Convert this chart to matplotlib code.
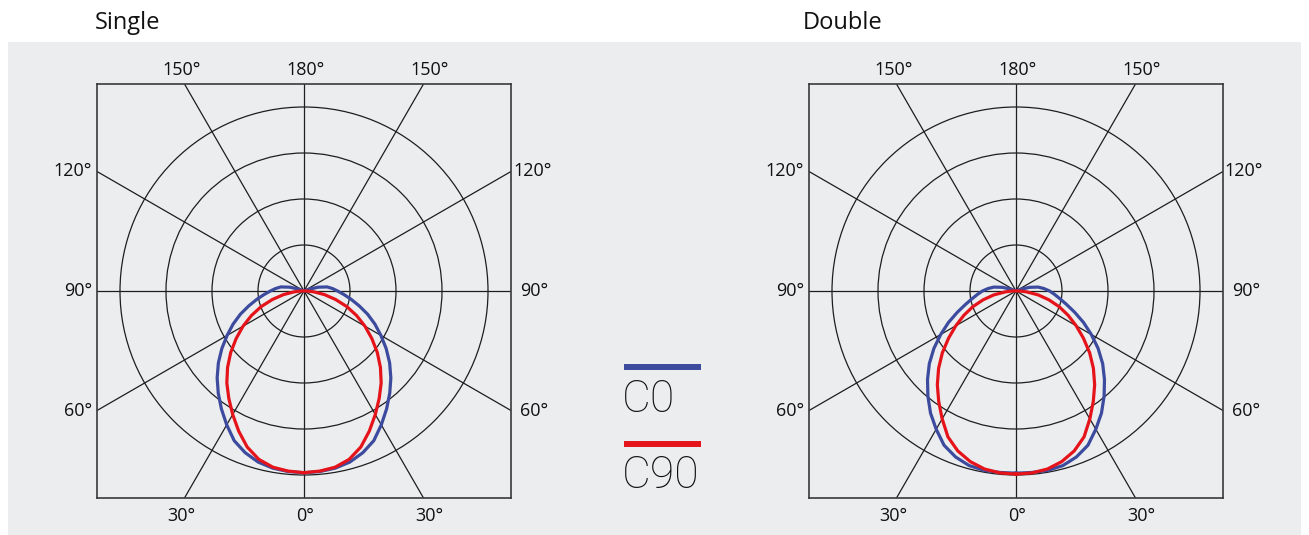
import numpy as np
import matplotlib
matplotlib.use("Agg")
import matplotlib.pyplot as plt
from matplotlib.patches import Rectangle, Circle

# ---------------- data ----------------
# angle from nadir (deg) and intensity (outer ring = 400)
angles = [0, 5, 10, 15, 20, 25, 30, 35, 40, 45, 50, 55, 60, 65, 70, 75, 80, 85,
          90, 95, 100, 105, 110, 115, 120, 180]

single_c0 = [395, 394, 391, 385, 374, 359, 336, 313, 290, 267, 243, 218, 193,
             170, 147, 124, 104, 87, 73, 62, 51, 32, 11, 0, 0, 0]
single_c90 = [395, 393, 389, 379, 361, 336, 310, 285, 261, 235, 208, 180, 153,
              126, 99, 71, 45, 22, 7, 0, 0, 0, 0, 0, 0, 0]
double_c0 = [396, 396, 396, 393, 384, 370, 347, 324, 298, 272, 246, 218, 189,
             162, 136, 114, 97, 84, 73, 61, 49, 31, 11, 0, 0, 0]
double_c90 = [398, 397, 393, 384, 370, 350, 321, 293, 266, 238, 209, 179, 151,
              125, 100, 74, 49, 24, 9, 0, 0, 0, 0, 0, 0, 0]

ring_values = [100, 200, 300, 400]
spoke_angles = list(range(0, 360, 30))
titles = ["Single", "Double"]
legend_labels = ["C0", "C90"]

# ---------------- style ----------------
W, H = 1309, 535
DPI = 100
BLUE = "#3C4B9E"
RED = "#E5141B"
GRID = "#1e1e1e"
BG = "#ECEDEF"
FONT = "Open Sans"
LIM = 450  # half box size in data units (outer ring = 400)

fig = plt.figure(figsize=(W / DPI, H / DPI), dpi=DPI)
fig.patch.set_facecolor("white")
fig.patches.append(Rectangle((8 / W, 0), (1301 - 8) / W, (H - 42) / H,
                             transform=fig.transFigure, facecolor=BG,
                             edgecolor="none", zorder=-10))


def fx(px):
    return px / W


def fy(py):
    return 1 - py / H


def polar_xy(ang, r):
    a = np.radians(np.asarray(ang, float))
    r = np.asarray(r, float)
    xr = r * np.sin(a)
    yr = -r * np.cos(a)
    x = np.concatenate([xr, -xr[::-1]])
    y = np.concatenate([yr, yr[::-1]])
    return x, y


def panel(left_px, top_px, size_px, c0, c90, right120_gap):
    ax = fig.add_axes([fx(left_px), fy(top_px + size_px), size_px / W, size_px / H])
    ax.set_zorder(1)
    ax.set_xlim(-LIM, LIM)
    ax.set_ylim(-LIM, LIM)
    ax.set_facecolor("none")
    ax.set_xticks([])
    ax.set_yticks([])
    for s in ax.spines.values():
        s.set_color("#3a3a3a")
        s.set_linewidth(1.2)
    for rv in ring_values:
        ax.add_patch(Circle((0, 0), rv, fill=False, edgecolor=GRID, lw=0.9, zorder=2))
    for sa in spoke_angles:
        a = np.radians(sa)
        ax.plot([0, 2000 * np.sin(a)], [0, -2000 * np.cos(a)], color=GRID, lw=0.9, zorder=2)
    x, y = polar_xy(angles, c0)
    ax.plot(x, y, color=BLUE, lw=2.3, zorder=4, solid_joinstyle="round")
    x, y = polar_xy(angles, c90)
    ax.plot(x, y, color=RED, lw=2.3, zorder=5, solid_joinstyle="round")

    t = LIM * np.tan(np.radians(30))
    kw = dict(textcoords="offset pixels", fontsize=13, family=FONT, color="#111111",
              annotation_clip=False)
    for xv, lab, dx in [(-t, "150°", -3), (0, "180°", 2), (t, "150°", 6)]:
        ax.annotate(lab, (xv, LIM), xytext=(dx, 9), ha="center", va="baseline", **kw)
    for xv, lab, dx in [(-t, "30°", -3), (0, "0°", 1), (t, "30°", 6)]:
        ax.annotate(lab, (xv, -LIM), xytext=(dx, -23), ha="center", va="baseline", **kw)
    for yv, lab in [(t, "120°"), (0, "90°"), (-t, "60°")]:
        ax.annotate(lab, (-LIM, yv), xytext=(-5, 0), ha="right", va="center", **kw)
    for yv, lab, g in [(t, "120°", right120_gap), (0, "90°", 9), (-t, "60°", 9)]:
        ax.annotate(lab, (LIM, yv), xytext=(g, 0), ha="left", va="center", **kw)
    return ax


panel(97, 84, 414, single_c0, single_c90, 2)
panel(809, 84, 414, double_c0, double_c90, 1)

fig.text(fx(95), fy(29), titles[0], fontsize=17, family=FONT, color="#111111",
         ha="left", va="baseline")
fig.text(fx(803), fy(29), titles[1], fontsize=17, family=FONT, color="#111111",
         ha="left", va="baseline")

# legend
lax = fig.add_axes([fx(600), fy(500), 130 / W, 160 / H])
lax.set_zorder(1)
lax.set_xlim(0, 130)
lax.set_ylim(500, 340)
lax.axis("off")
for yl, col, lab, ytxt in [(367, BLUE, legend_labels[0], 412), (444, RED, legend_labels[1], 488)]:
    lax.plot([24, 101], [yl, yl], color=col, lw=4.3, solid_capstyle="butt")
    lax.text(22, ytxt, lab, fontsize=32, family="Roboto", fontweight="light",
             color="#111111", ha="left", va="baseline")

fig.savefig("out.png", dpi=DPI)
